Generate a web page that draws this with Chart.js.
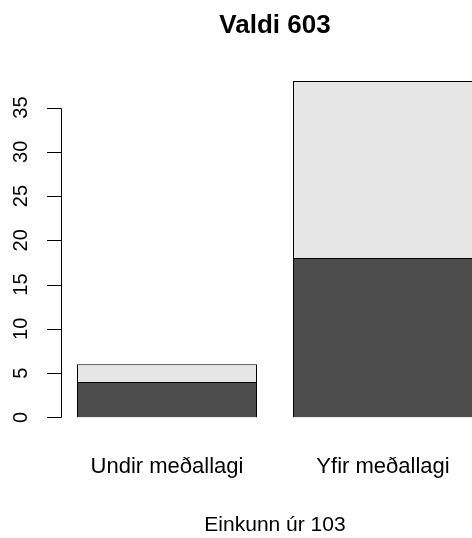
<!DOCTYPE html>
<html>
<head>
<meta charset="utf-8">
<script src="https://cdn.jsdelivr.net/npm/chart.js@4"></script>
<style>
  html, body { margin: 0; padding: 0; background: #fff; overflow: hidden; }
  #wrap { width: 472px; height: 538px; overflow: hidden; }
</style>
</head>
<body>
<div id="wrap"><canvas id="chart" width="548" height="538"></canvas></div>
<script>
var categories = ["Undir meðallagi", "Yfir meðallagi"];
var lowerValues = [4, 18];
var upperValues = [2, 20];
var yTicks = [0, 5, 10, 15, 20, 25, 30, 35];
var chartTitle = "Valdi 603";
var xTitle = "Einkunn úr 103";

var dark = "#4d4d4d";
var light = "#e6e6e6";
var fontFamily = "'Liberation Sans', Arial, sans-serif";

// R style y axis: line only from first to last tick, labels parallel to axis
var rAxis = {
    id: "rAxis",
    afterDraw: function (chart) {
        var ctx = chart.ctx;
        var y = chart.scales.y;
        var x0 = Math.round(chart.chartArea.left) + 2;
        ctx.save();
        ctx.strokeStyle = "#000";
        ctx.lineWidth = 1;
        ctx.beginPath();
        ctx.moveTo(x0 + 0.5, Math.round(y.getPixelForValue(yTicks[0])) + 0.5);
        ctx.lineTo(x0 + 0.5, Math.round(y.getPixelForValue(yTicks[yTicks.length - 1])) + 0.5);
        yTicks.forEach(function (t) {
            var py = Math.round(y.getPixelForValue(t)) + 0.5;
            ctx.moveTo(x0 + 0.5, py);
            ctx.lineTo(x0 - 14, py);
        });
        ctx.stroke();
        ctx.fillStyle = "#000";
        ctx.font = "20px " + fontFamily;
        ctx.textAlign = "center";
        ctx.textBaseline = "middle";
        yTicks.forEach(function (t) {
            ctx.save();
            ctx.translate(x0 - 40, y.getPixelForValue(t));
            ctx.rotate(-Math.PI / 2);
            ctx.fillText(String(t), 0, 0);
            ctx.restore();
        });
        ctx.restore();
    }
};

new Chart(document.getElementById("chart").getContext("2d"), {
    type: "bar",
    data: {
        labels: categories,
        datasets: [{
            label: "lower",
            data: lowerValues,
            backgroundColor: dark,
            borderColor: "#000",
            borderWidth: 1
        }, {
            label: "upper",
            data: upperValues,
            backgroundColor: light,
            borderColor: "#000",
            borderWidth: 1
        }]
    },
    options: {
        responsive: false,
        animation: false,
        categoryPercentage: 1,
        barPercentage: 1 / 1.2,
        layout: { padding: { left: 59, right: 57, top: 0, bottom: 0 } },
        plugins: {
            legend: { display: false },
            tooltip: { enabled: false },
            title: {
                display: true,
                text: chartTitle,
                color: "#000",
                font: { family: fontFamily, size: 26, weight: "bold" },
                padding: { top: 10.4, bottom: 39.4 }
            }
        },
        scales: {
            x: {
                stacked: true,
                grid: { display: false, drawTicks: false },
                border: { display: false },
                ticks: {
                    color: "#000",
                    padding: 36,
                    font: { family: fontFamily, size: 22 }
                },
                title: {
                    display: true,
                    text: xTitle,
                    color: "#000",
                    font: { family: fontFamily, size: 21 },
                    padding: { top: -3, bottom: 0 }
                }
            },
            y: {
                stacked: true,
                display: false,
                min: 0,
                max: 38
            }
        }
    },
    plugins: [rAxis]
});
</script>
</body>
</html>
